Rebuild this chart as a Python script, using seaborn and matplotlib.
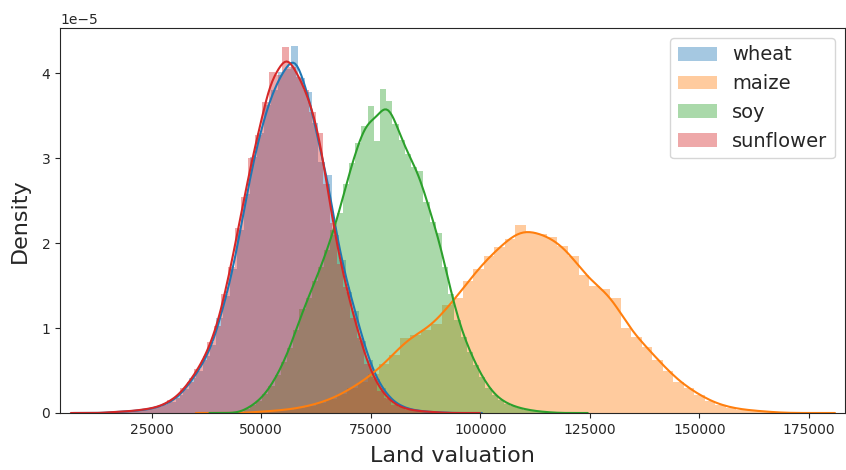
import numpy as np
import pandas as pd
import matplotlib
matplotlib.use("Agg")
import matplotlib.pyplot as plt
import seaborn as sns
from matplotlib.ticker import MultipleLocator

crops = ["wheat", "maize", "soy", "sunflower"]

# First bin edge and bin width of each crop's histogram (land value units)
wheat_start, wheat_width = 15000, 1550
maize_start, maize_width = 48000, 2400
soy_start, soy_width = 46000, 1414
sunflower_start, sunflower_width = 14500, 1550

# Bin densities, in units of 1e-5
wheat_density = [0.01, 0.01, 0.02, 0.02, 0.03, 0.04, 0.05, 0.07, 0.11, 0.13,
                 0.21, 0.28, 0.41, 0.50, 0.67, 0.80, 1.12, 1.38, 1.70, 2.15,
                 2.58, 3.02, 3.30, 3.63, 3.80, 4.02, 4.05, 4.32, 3.95, 3.78,
                 3.42, 2.96, 2.80, 2.10, 1.80, 1.42, 1.20, 0.85, 0.63, 0.40,
                 0.29, 0.17, 0.11, 0.07, 0.04, 0.03, 0.02, 0.01, 0.01, 0.005]

maize_density = [0.015, 0.02, 0.03, 0.04, 0.06, 0.085, 0.12, 0.16, 0.22, 0.30,
                 0.37, 0.46, 0.58, 0.68, 0.88, 0.92, 0.98, 1.05, 1.27, 1.35,
                 1.56, 1.70, 1.85, 1.95, 2.05, 2.22, 2.13, 2.11, 2.07, 1.97,
                 1.85, 1.62, 1.50, 1.46, 1.36, 1.00, 0.90, 0.78, 0.63, 0.50,
                 0.37, 0.29, 0.21, 0.14, 0.09, 0.06, 0.04, 0.03, 0.02, 0.01]

soy_density = [0.05, 0.09, 0.14, 0.22, 0.32, 0.45, 0.60, 0.76, 0.98, 1.22,
               1.36, 1.55, 1.72, 1.92, 2.15, 2.35, 2.70, 2.95, 3.18, 3.38,
               3.62, 3.20, 3.82, 3.68, 3.40, 3.22, 3.05, 2.90, 2.85, 2.48,
               2.25, 2.12, 1.72, 1.40, 1.10, 0.90, 0.72, 0.56, 0.42, 0.30,
               0.21, 0.15, 0.11, 0.08, 0.06, 0.04, 0.03, 0.02, 0.01, 0.01]

sunflower_density = [0.01, 0.01, 0.02, 0.02, 0.03, 0.04, 0.05, 0.07, 0.09, 0.15,
                     0.18, 0.29, 0.37, 0.52, 0.62, 0.84, 1.02, 1.40, 1.72, 2.18,
                     2.55, 3.00, 3.28, 3.66, 4.02, 3.98, 4.31, 4.08, 3.96, 3.80,
                     3.55, 3.30, 2.70, 2.24, 1.76, 1.48, 1.12, 0.88, 0.58, 0.42,
                     0.26, 0.18, 0.10, 0.07, 0.04, 0.03, 0.02, 0.015, 0.01, 0.005]

series = {
    "wheat": (wheat_start, wheat_width, wheat_density),
    "maize": (maize_start, maize_width, maize_density),
    "soy": (soy_start, soy_width, soy_density),
    "sunflower": (sunflower_start, sunflower_width, sunflower_density),
}

# KDE bandwidth wanted for each curve (land value units)
kde_bandwidth = {"wheat": 1500, "maize": 2900, "soy": 1750, "sunflower": 1500}


def bw_adjust_for(centers, weights, target):
    """bw_adjust that gives a weighted Scott KDE the requested bandwidth."""
    w = weights / weights.sum()
    neff = 1.0 / np.sum(w ** 2)
    mean = np.sum(w * centers)
    var = np.sum(w * (centers - mean) ** 2) / (1.0 - np.sum(w ** 2))
    return target / (neff ** -0.2 * np.sqrt(var))


sns.set_theme(style="ticks")
plt.rcParams["font.family"] = ["DejaVu Sans"]

fig = plt.figure(figsize=(8.46, 4.70), dpi=100)
ax = fig.add_axes([60 / 846, 57 / 470, 785 / 846, 385 / 470])

colors = sns.color_palette("tab10")[:4]

for crop, color in zip(crops, colors):
    start, width, dens = series[crop]
    n_bins = len(dens)
    centers = start + width * (np.arange(n_bins) + 0.5)
    frame = pd.DataFrame({"value": centers,
                          "density": np.asarray(dens, dtype=float) * 1e-5})
    sns.histplot(
        data=frame, x="value", weights="density",
        binwidth=width, binrange=(start, start + width * n_bins),
        stat="count", kde=True,
        kde_kws={"bw_adjust": bw_adjust_for(frame["value"].to_numpy(),
                                            frame["density"].to_numpy(),
                                            kde_bandwidth[crop]),
                 "cut": 3},
        line_kws={"linewidth": 1.5},
        color=color, alpha=0.4, linewidth=0, label=crop, ax=ax,
    )

ax.set_xlim(4100, 183200)
ax.set_ylim(0, 4.535e-5)
ax.xaxis.set_major_locator(MultipleLocator(25000))

ax.set_xlabel("Land valuation", fontsize=16, labelpad=7)
ax.set_ylabel("Density", fontsize=16, labelpad=8)
ax.tick_params(labelsize=10, length=3.5, width=0.8)
ax.yaxis.get_offset_text().set_fontsize(10)
for spine in ax.spines.values():
    spine.set_linewidth(0.8)

ax.legend(fontsize=14, loc="upper right")

fig.savefig("out.png", dpi=100)
